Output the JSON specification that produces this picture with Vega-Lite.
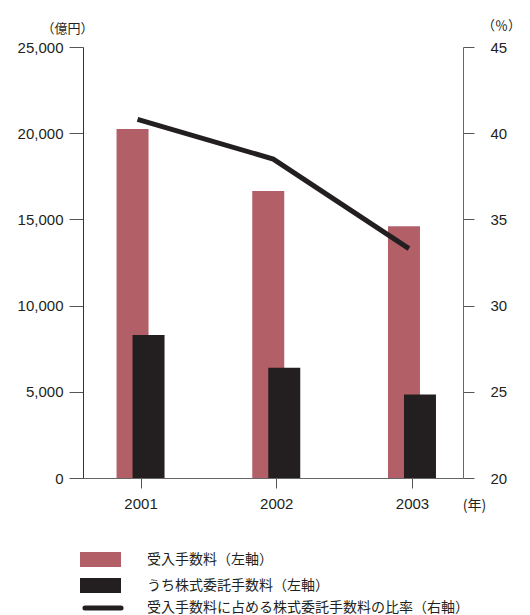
{
  "$schema": "https://vega.github.io/schema/vega-lite/v6.json",
  "width": 380,
  "height": 431,
  "autosize": "none",
  "padding": {"left": 83, "top": 47, "right": 67, "bottom": 137},
  "background": "white",
  "config": {
    "view": {"stroke": null},
    "font": "Liberation Sans, Noto Sans CJK JP",
    "axis": {
      "grid": false,
      "labelColor": "#231f20",
      "labelFontSize": 15,
      "labelFont": "Liberation Sans",
      "titleColor": "#231f20",
      "titleFont": "Noto Sans CJK JP",
      "titleFontWeight": "normal",
      "titleFontSize": 13,
      "titleAngle": 0,
      "titleAlign": "center",
      "titleBaseline": "middle",
      "tickColor": "#555555",
      "domainColor": "#444444"
    },
    "legend": {
      "labelFont": "Noto Sans CJK JP",
      "labelFontSize": 14,
      "labelColor": "#231f20",
      "labelLimit": 400,
      "orient": "none",
      "direction": "vertical",
      "title": null
    }
  },
  "datasets": {
    "fees": [
      {"year": "2001", "series": "受入手数料", "value": 20250},
      {"year": "2002", "series": "受入手数料", "value": 16650},
      {"year": "2003", "series": "受入手数料", "value": 14600},
      {"year": "2001", "series": "うち株式委託手数料", "value": 8300},
      {"year": "2002", "series": "うち株式委託手数料", "value": 6400},
      {"year": "2003", "series": "うち株式委託手数料", "value": 4850}
    ],
    "ratio": [
      {"year": "2001", "series": "受入手数料に占める株式委託手数料の比率", "value": 40.8},
      {"year": "2002", "series": "受入手数料に占める株式委託手数料の比率", "value": 38.5},
      {"year": "2003", "series": "受入手数料に占める株式委託手数料の比率", "value": 33.3}
    ]
  },
  "encoding": {
    "x": {
      "field": "year",
      "type": "ordinal",
      "scale": {"type": "point", "padding": 0.4, "align": 0.53},
      "axis": {
        "orient": "bottom",
        "labelAngle": 0,
        "tickSize": 10,
        "labelPadding": 8,
        "title": "(年)",
        "titleFontSize": 14,
        "titleX": 391,
        "titleY": 27,
        "domainColor": "#666666"
      }
    }
  },
  "layer": [
    {
      "data": {"name": "fees"},
      "encoding": {
        "y": {
          "field": "value",
          "type": "quantitative",
          "scale": {"domain": [0, 25000]},
          "axis": {
            "orient": "left",
            "values": [0, 5000, 10000, 15000, 20000, 25000],
            "labelExpr": "format(datum.value, ',')",
            "tickSize": 14,
            "labelPadding": 6,
            "domainColor": "#333333",
            "title": "（億円）",
            "titleX": -16,
            "titleY": -19
          }
        },
        "color": {
          "field": "series",
          "type": "nominal",
          "scale": {
            "domain": ["受入手数料", "うち株式委託手数料"],
            "range": ["#b25f67", "#231f20"]
          },
          "legend": {
            "labelExpr": "datum.label + '（左軸）'",
            "symbolType": "M-2.5,-0.915H2.5V0.915H-2.5Z",
            "symbolSize": 269,
            "symbolStrokeWidth": 0,
            "symbolOpacity": 1,
            "labelOffset": 38,
            "rowPadding": 9,
            "legendX": 9,
            "legendY": 504
          }
        }
      },
      "layer": [
        {
          "transform": [{"filter": "datum.series === '受入手数料'"}],
          "mark": {"type": "bar", "width": 32, "xOffset": -8}
        },
        {
          "transform": [{"filter": "datum.series === 'うち株式委託手数料'"}],
          "mark": {"type": "bar", "width": 32, "xOffset": 8}
        }
      ]
    },
    {
      "data": {"name": "ratio"},
      "mark": {"type": "line", "strokeWidth": 5, "strokeCap": "butt", "xOffset": -3},
      "encoding": {
        "y": {
          "field": "value",
          "type": "quantitative",
          "scale": {"domain": [20, 45]},
          "axis": {
            "orient": "right",
            "values": [20, 25, 30, 35, 40, 45],
            "tickSize": 11,
            "labelPadding": 16,
            "domainColor": "#666666",
            "title": "（％）",
            "titleX": 38,
            "titleY": -22
          }
        },
        "stroke": {
          "field": "series",
          "type": "nominal",
          "scale": {"range": ["#231f20"]},
          "legend": {
            "labelExpr": "datum.label + '（右軸）'",
            "symbolType": "M-2.2,0H2.2",
            "symbolSize": 269,
            "symbolStrokeWidth": 5,
            "labelOffset": 33,
            "legendX": 9,
            "legendY": 550,
            "encode": {"symbols": {"update": {"strokeCap": {"value": "round"}}}}
          }
        }
      }
    }
  ],
  "resolve": {"scale": {"y": "independent"}}
}
